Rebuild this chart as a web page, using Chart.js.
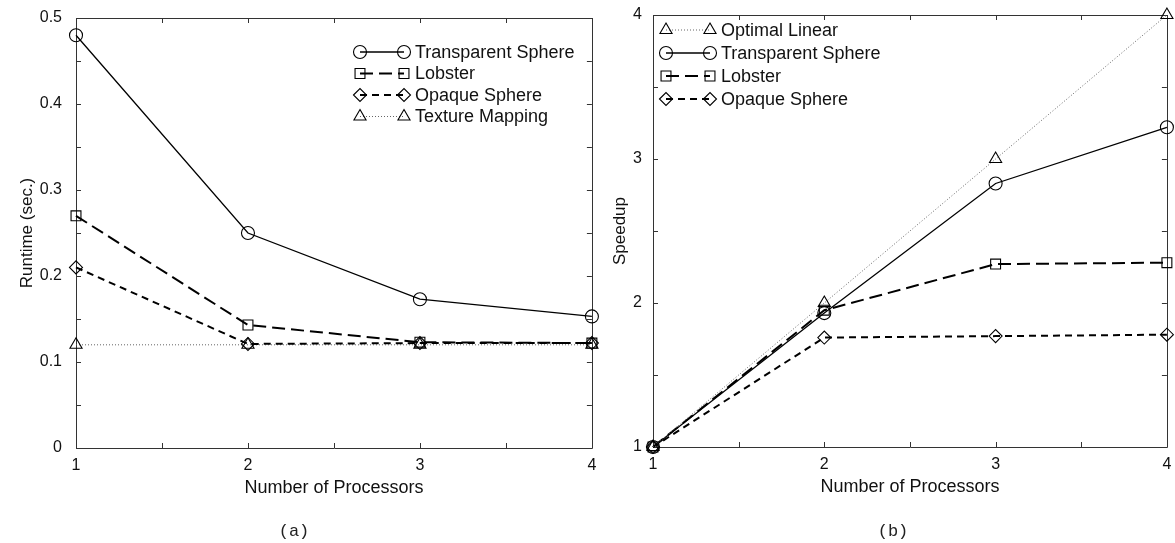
<!DOCTYPE html>
<html><head><meta charset="utf-8">
<script src="https://cdn.jsdelivr.net/npm/chart.js@4.4.1/dist/chart.umd.min.js"></script>
<style>
html,body{margin:0;padding:0;background:#fff;width:1175px;height:543px;overflow:hidden;}
#wa{position:absolute;left:0;top:0;width:600px;height:543px;}
#wb{position:absolute;left:600px;top:0;width:575px;height:543px;}
.cap{position:absolute;top:522px;width:60px;text-align:center;font-family:"Liberation Mono","DejaVu Sans Mono",monospace;font-size:17px;line-height:20px;color:#222;}
</style></head><body>
<div id="wa"><canvas id="ca"></canvas></div>
<div id="wb"><canvas id="cb"></canvas></div>
<div class="cap" style="left:264px">(a)</div>
<div class="cap" style="left:863px">(b)</div>
<script>
// ---- data ----
const processors = [1, 2, 3, 4];
const runtimeTransparent = [0.48, 0.25, 0.173, 0.153];
const runtimeLobster = [0.27, 0.143, 0.123, 0.122];
const runtimeOpaque = [0.21, 0.121, 0.122, 0.122];
const runtimeTexture = [0.12, 0.12, 0.12, 0.12];
const speedupOptimal = [1, 2, 3, 4];
const speedupTransparent = [1, 1.93, 2.83, 3.22];
const speedupLobster = [1, 1.95, 2.27, 2.28];
const speedupOpaque = [1, 1.76, 1.77, 1.78];
const runtimeTickLabels = [0, 0.1, 0.2, 0.3, 0.4, 0.5];
const speedupTickLabels = [1, 2, 3, 4];
const xTickLabels = [1, 2, 3, 4];
const labelTransparent = 'Transparent Sphere';
const labelLobster = 'Lobster';
const labelOpaque = 'Opaque Sphere';
const labelTexture = 'Texture Mapping';
const labelOptimal = 'Optimal Linear';
const xTitle = 'Number of Processors';
const yTitleA = 'Runtime (sec.)';
const yTitleB = 'Speedup';

// ---- styles ----
const FONT = '"Liberation Sans", Arial, Helvetica, sans-serif';
const INK = '#111';
const st = {
  transparent: {borderColor:'#000', borderWidth:1.3, borderDash:[], pointStyle:'circle', pointRadius:6.5},
  lobster: {borderColor:'#000', borderWidth:2, borderDash:[13,6], pointStyle:'rect', pointRadius:7},
  opaque: {borderColor:'#000', borderWidth:2, borderDash:[7,5], pointStyle:'rectRot', pointRadius:6.5},
  dotted: {borderColor:'#666', borderWidth:1, borderDash:[1,2], pointStyle:'triangle', pointRadius:7}
};
function ds(label, values, s) {
  return Object.assign({
    label,
    data: processors.map((x, i) => ({x, y: values[i]})),
    pointBorderColor:'#000', pointBackgroundColor:'rgba(0,0,0,0)', pointBorderWidth:1.1,
    pointHoverRadius: s.pointRadius, fill:false, tension:0, clip:false
  }, s);
}

function drawMarker(ctx, style, r, x, y) {
  ctx.beginPath();
  if (style === 'circle') { ctx.arc(x, y, r, 0, Math.PI*2); }
  else if (style === 'rect') { const h = r*Math.SQRT1_2; ctx.rect(x-h, y-h, 2*h, 2*h); }
  else if (style === 'rectRot') { ctx.moveTo(x-r,y); ctx.lineTo(x,y-r); ctx.lineTo(x+r,y); ctx.lineTo(x,y+r); ctx.closePath(); }
  else if (style === 'triangle') {
    for (let k=0;k<3;k++){ const a = k*2*Math.PI/3; const px = x + Math.sin(a)*r, py = y - Math.cos(a)*r; k?ctx.lineTo(px,py):ctx.moveTo(px,py);} ctx.closePath();
  }
  ctx.stroke();
}

const legendPlugin = {
  id: 'sketchLegend',
  afterDatasetsDraw(chart, args, o) {
    const ctx = chart.ctx;
    ctx.save();
    chart.data.datasets.forEach((d, i) => {
      const y = o.y0 + i*o.dy;
      ctx.strokeStyle = d.borderColor; ctx.lineWidth = d.borderWidth;
      ctx.setLineDash(d.borderDash || []);
      ctx.beginPath(); ctx.moveTo(o.x1, y); ctx.lineTo(o.x2, y); ctx.stroke();
      ctx.setLineDash([]);
      ctx.strokeStyle = d.pointBorderColor; ctx.lineWidth = d.pointBorderWidth;
      drawMarker(ctx, d.pointStyle, d.pointRadius, o.x1, y);
      drawMarker(ctx, d.pointStyle, d.pointRadius, o.x2, y);
      ctx.fillStyle = INK; ctx.font = o.font; ctx.textBaseline = 'middle'; ctx.textAlign = 'left';
      ctx.fillText(d.label, o.tx, y + 1);
    });
    ctx.restore();
  }
};

const framePlugin = {
  id: 'frame',
  beforeDatasetsDraw(chart, args, o) {
    const {ctx, chartArea} = chart;
    const {left, right, top, bottom} = chartArea;
    const x = chart.scales.x, y = chart.scales.y;
    ctx.save();
    ctx.strokeStyle = o.color; ctx.lineWidth = 1;
    ctx.beginPath();
    ctx.rect(Math.round(left)+0.5, Math.round(top)+0.5, Math.round(right-left), Math.round(bottom-top));
    x.ticks.forEach(t => {
      const px = Math.round(x.getPixelForValue(t.value)) + 0.5;
      ctx.moveTo(px, bottom); ctx.lineTo(px, bottom - o.len);
      ctx.moveTo(px, top); ctx.lineTo(px, top + o.len);
    });
    y.ticks.forEach(t => {
      const py = Math.round(y.getPixelForValue(t.value)) + 0.5;
      ctx.moveTo(left, py); ctx.lineTo(left + o.len, py);
      ctx.moveTo(right, py); ctx.lineTo(right - o.len, py);
    });
    ctx.stroke();
    ctx.restore();
  }
};

function near(list, v) { return list.some(t => Math.abs(t - v) < 1e-6); }
function zeroPad(s) { s.paddingTop = 0; s.paddingBottom = 0; s.paddingLeft = 0; s.paddingRight = 0; }

function makeChart(id, datasets, yCfg, xCfg, pad, legendOpts) {
  return new Chart(document.getElementById(id), {
    type: 'line',
    data: { datasets },
    options: {
      responsive: true, maintainAspectRatio: false, animation: false,
      layout: { padding: pad },
      plugins: { legend: {display:false}, tooltip: {enabled:false}, title:{display:false},
        sketchLegend: legendOpts, frame: {color:'#333', len:5} },
      scales: {
        x: {
          type: 'linear', min: 1, max: 4,
          grid: {display:false, drawTicks:false}, border: {display:false},
          ticks: {stepSize:0.5, autoSkip:false, maxRotation:0, padding:xCfg.tickPad, color:INK,
            font:{family:FONT, size:16}, callback: v => near(xTickLabels, v) ? String(v) : ''},
          title: {display:true, text:xTitle, color:INK, font:{family:FONT, size:18}, padding:{top:0, bottom:xCfg.titlePad}},
          afterFit: s => { s.height = xCfg.height; zeroPad(s); }
        },
        y: {
          type: 'linear', min: yCfg.min, max: yCfg.max,
          grid: {display:false, drawTicks:false}, border: {display:false},
          ticks: {stepSize:yCfg.step, autoSkip:false, padding:yCfg.tickPad, color:INK,
            font:{family:FONT, size:16}, callback: v => near(yCfg.labels, v) ? String(Math.round(v*10)/10) : ''},
          title: {display:true, text:yCfg.title, color:INK, font:{family:FONT, size:17}, padding:{top:yCfg.titlePad, bottom:0}},
          afterFit: s => { s.width = yCfg.width; zeroPad(s); }
        }
      }
    },
    plugins: [framePlugin, legendPlugin]
  });
}

makeChart('ca', [
    ds(labelTransparent, runtimeTransparent, st.transparent),
    ds(labelLobster, runtimeLobster, st.lobster),
    ds(labelOpaque, runtimeOpaque, st.opaque),
    ds(labelTexture, runtimeTexture, st.dotted)
  ],
  {min:0, max:0.5, step:0.05, labels:runtimeTickLabels, title:yTitleA, tickPad:14, titlePad:17, width:76},
  {tickPad:8, titlePad:44, height:95},
  {left:0, right:4, top:18, bottom:0},
  {x1:360, x2:404, tx:415, y0:52, dy:21.5, font:'18px ' + FONT}
);

makeChart('cb', [
    ds(labelOptimal, speedupOptimal, st.dotted),
    ds(labelTransparent, speedupTransparent, st.transparent),
    ds(labelLobster, speedupLobster, st.lobster),
    ds(labelOpaque, speedupOpaque, st.opaque)
  ],
  {min:1, max:4, step:0.5, labels:speedupTickLabels, title:yTitleB, tickPad:11, titlePad:10, width:53},
  {tickPad:8, titlePad:45, height:96},
  {left:0, right:3, top:15, bottom:0},
  {x1:66, x2:110, tx:121, y0:30, dy:23, font:'18px ' + FONT}
);
</script>
</body></html>
